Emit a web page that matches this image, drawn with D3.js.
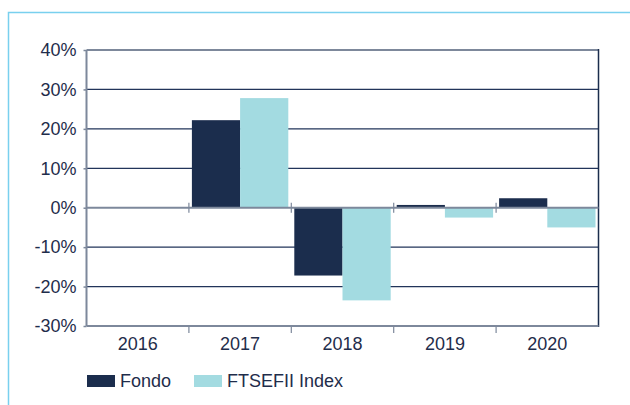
<!DOCTYPE html>
<html>
<head>
<meta charset="utf-8">
<script src="https://cdn.jsdelivr.net/npm/d3@7/dist/d3.min.js"></script>
<style>
  html, body { margin: 0; padding: 0; background: #fff; }
  svg { display: block; font-family: "Liberation Sans", Arial, sans-serif; }
</style>
</head>
<body>
<svg id="chart" width="630" height="405"></svg>
<script>
// Annual returns by year
const years = ["2016", "2017", "2018", "2019", "2020"];
const seriesNames = ["Fondo", "FTSEFII Index"];
const fondo = [null, 22.2, -17.2, 0.7, 2.4];
const ftsefii = [null, 27.8, -23.5, -2.5, -5.0];
const yTicks = [-30, -20, -10, 0, 10, 20, 30, 40];

const colors = { "Fondo": "#1b2d4d", "FTSEFII Index": "#a3dbe1" };
const textColor = "#1f2d4b";
const axisGrey = "#7d889b";
const fontSize = "18px";

const svg = d3.select("#chart");
const m = { left: 86.5, right: 598.5, top: 50, bottom: 326 };

// Outer frame (left and top edges)
svg.append("path")
  .attr("d", `M8.5,405 V12.5 H630`)
  .attr("fill", "none")
  .attr("stroke", "#79d0ee")
  .attr("stroke-width", 1.5);

const x0 = d3.scaleBand().domain(years).range([m.left, m.right]).paddingInner(0).paddingOuter(0);
const x1 = d3.scaleBand().domain(seriesNames).range([3, x0.bandwidth() - 3]).padding(0);
const y = d3.scaleLinear().domain([-30, 40]).range([m.bottom, m.top]);

// Horizontal gridlines
svg.append("g")
  .selectAll("line")
  .data(yTicks.filter(t => t !== 0 && t !== 40 && t !== -30))
  .join("line")
  .attr("x1", m.left).attr("x2", m.right)
  .attr("y1", d => y(d)).attr("y2", d => y(d))
  .attr("stroke", "#22345a").attr("stroke-width", 1.2);

// Y axis labels and small ticks
const yAxis = d3.axisLeft(y).tickValues(yTicks).tickFormat(d => d + "%").tickSize(3).tickPadding(7);
const gy = svg.append("g").attr("transform", `translate(${m.left},0)`).call(yAxis);
gy.select(".domain").remove();
gy.selectAll(".tick line").attr("stroke", axisGrey).attr("stroke-width", 1.5);
gy.selectAll(".tick text")
  .attr("fill", textColor)
  .attr("font-size", fontSize)
  .attr("font-family", "Liberation Sans, Arial, sans-serif");

// Bars
const data = years.map((yr, i) => ({ year: yr, values: [
  { key: "Fondo", v: fondo[i] },
  { key: "FTSEFII Index", v: ftsefii[i] }
]}));

svg.append("g")
  .selectAll("g")
  .data(data)
  .join("g")
  .attr("transform", d => `translate(${x0(d.year)},0)`)
  .selectAll("rect")
  .data(d => d.values.filter(e => e.v !== null))
  .join("rect")
  .attr("x", d => x1(d.key))
  .attr("width", x1.bandwidth())
  .attr("y", d => y(Math.max(0, d.v)))
  .attr("height", d => Math.abs(y(d.v) - y(0)))
  .attr("fill", d => colors[d.key]);

// Plot frame: left, top grey; right dark
svg.append("line").attr("x1", m.left).attr("x2", m.left).attr("y1", m.top).attr("y2", m.bottom)
  .attr("stroke", axisGrey).attr("stroke-width", 2);
svg.append("line").attr("x1", m.left).attr("x2", m.right).attr("y1", m.top).attr("y2", m.top)
  .attr("stroke", axisGrey).attr("stroke-width", 2);
svg.append("line").attr("x1", m.right).attr("x2", m.right).attr("y1", m.top - 1).attr("y2", m.bottom + 1)
  .attr("stroke", "#1b2d4d").attr("stroke-width", 1.5);

// Zero line with category separators
svg.append("line").attr("x1", m.left).attr("x2", m.right).attr("y1", y(0)).attr("y2", y(0))
  .attr("stroke", axisGrey).attr("stroke-width", 2);
svg.append("g")
  .selectAll("line")
  .data(years.slice(1))
  .join("line")
  .attr("x1", d => x0(d)).attr("x2", d => x0(d))
  .attr("y1", y(0) - 5).attr("y2", y(0) + 5)
  .attr("stroke", axisGrey).attr("stroke-width", 1.2);

// Bottom category axis
const gx = svg.append("g").attr("transform", `translate(0,${m.bottom})`)
  .call(d3.axisBottom(x0).tickSize(0).tickPadding(11));
gx.select(".domain").attr("stroke", axisGrey).attr("stroke-width", 2).attr("d", `M${m.left},0H${m.right}`);
gx.selectAll(".tick text")
  .attr("fill", textColor)
  .attr("font-size", fontSize)
  .attr("font-family", "Liberation Sans, Arial, sans-serif");
gx.append("g")
  .selectAll("line")
  .data(years.slice(1))
  .join("line")
  .attr("x1", d => x0(d)).attr("x2", d => x0(d))
  .attr("y1", 0).attr("y2", 7)
  .attr("stroke", axisGrey).attr("stroke-width", 1.2);

// Legend
const legendX = [87, 194];
const lg = svg.append("g").selectAll("g")
  .data(seriesNames)
  .join("g")
  .attr("transform", (d, i) => `translate(${legendX[i]},375)`);
lg.append("rect").attr("width", 28).attr("height", 12).attr("fill", d => colors[d]);
lg.append("text")
  .attr("x", 33).attr("y", 11.5)
  .attr("fill", textColor)
  .attr("font-size", fontSize)
  .text(d => d);
</script>
</body>
</html>
